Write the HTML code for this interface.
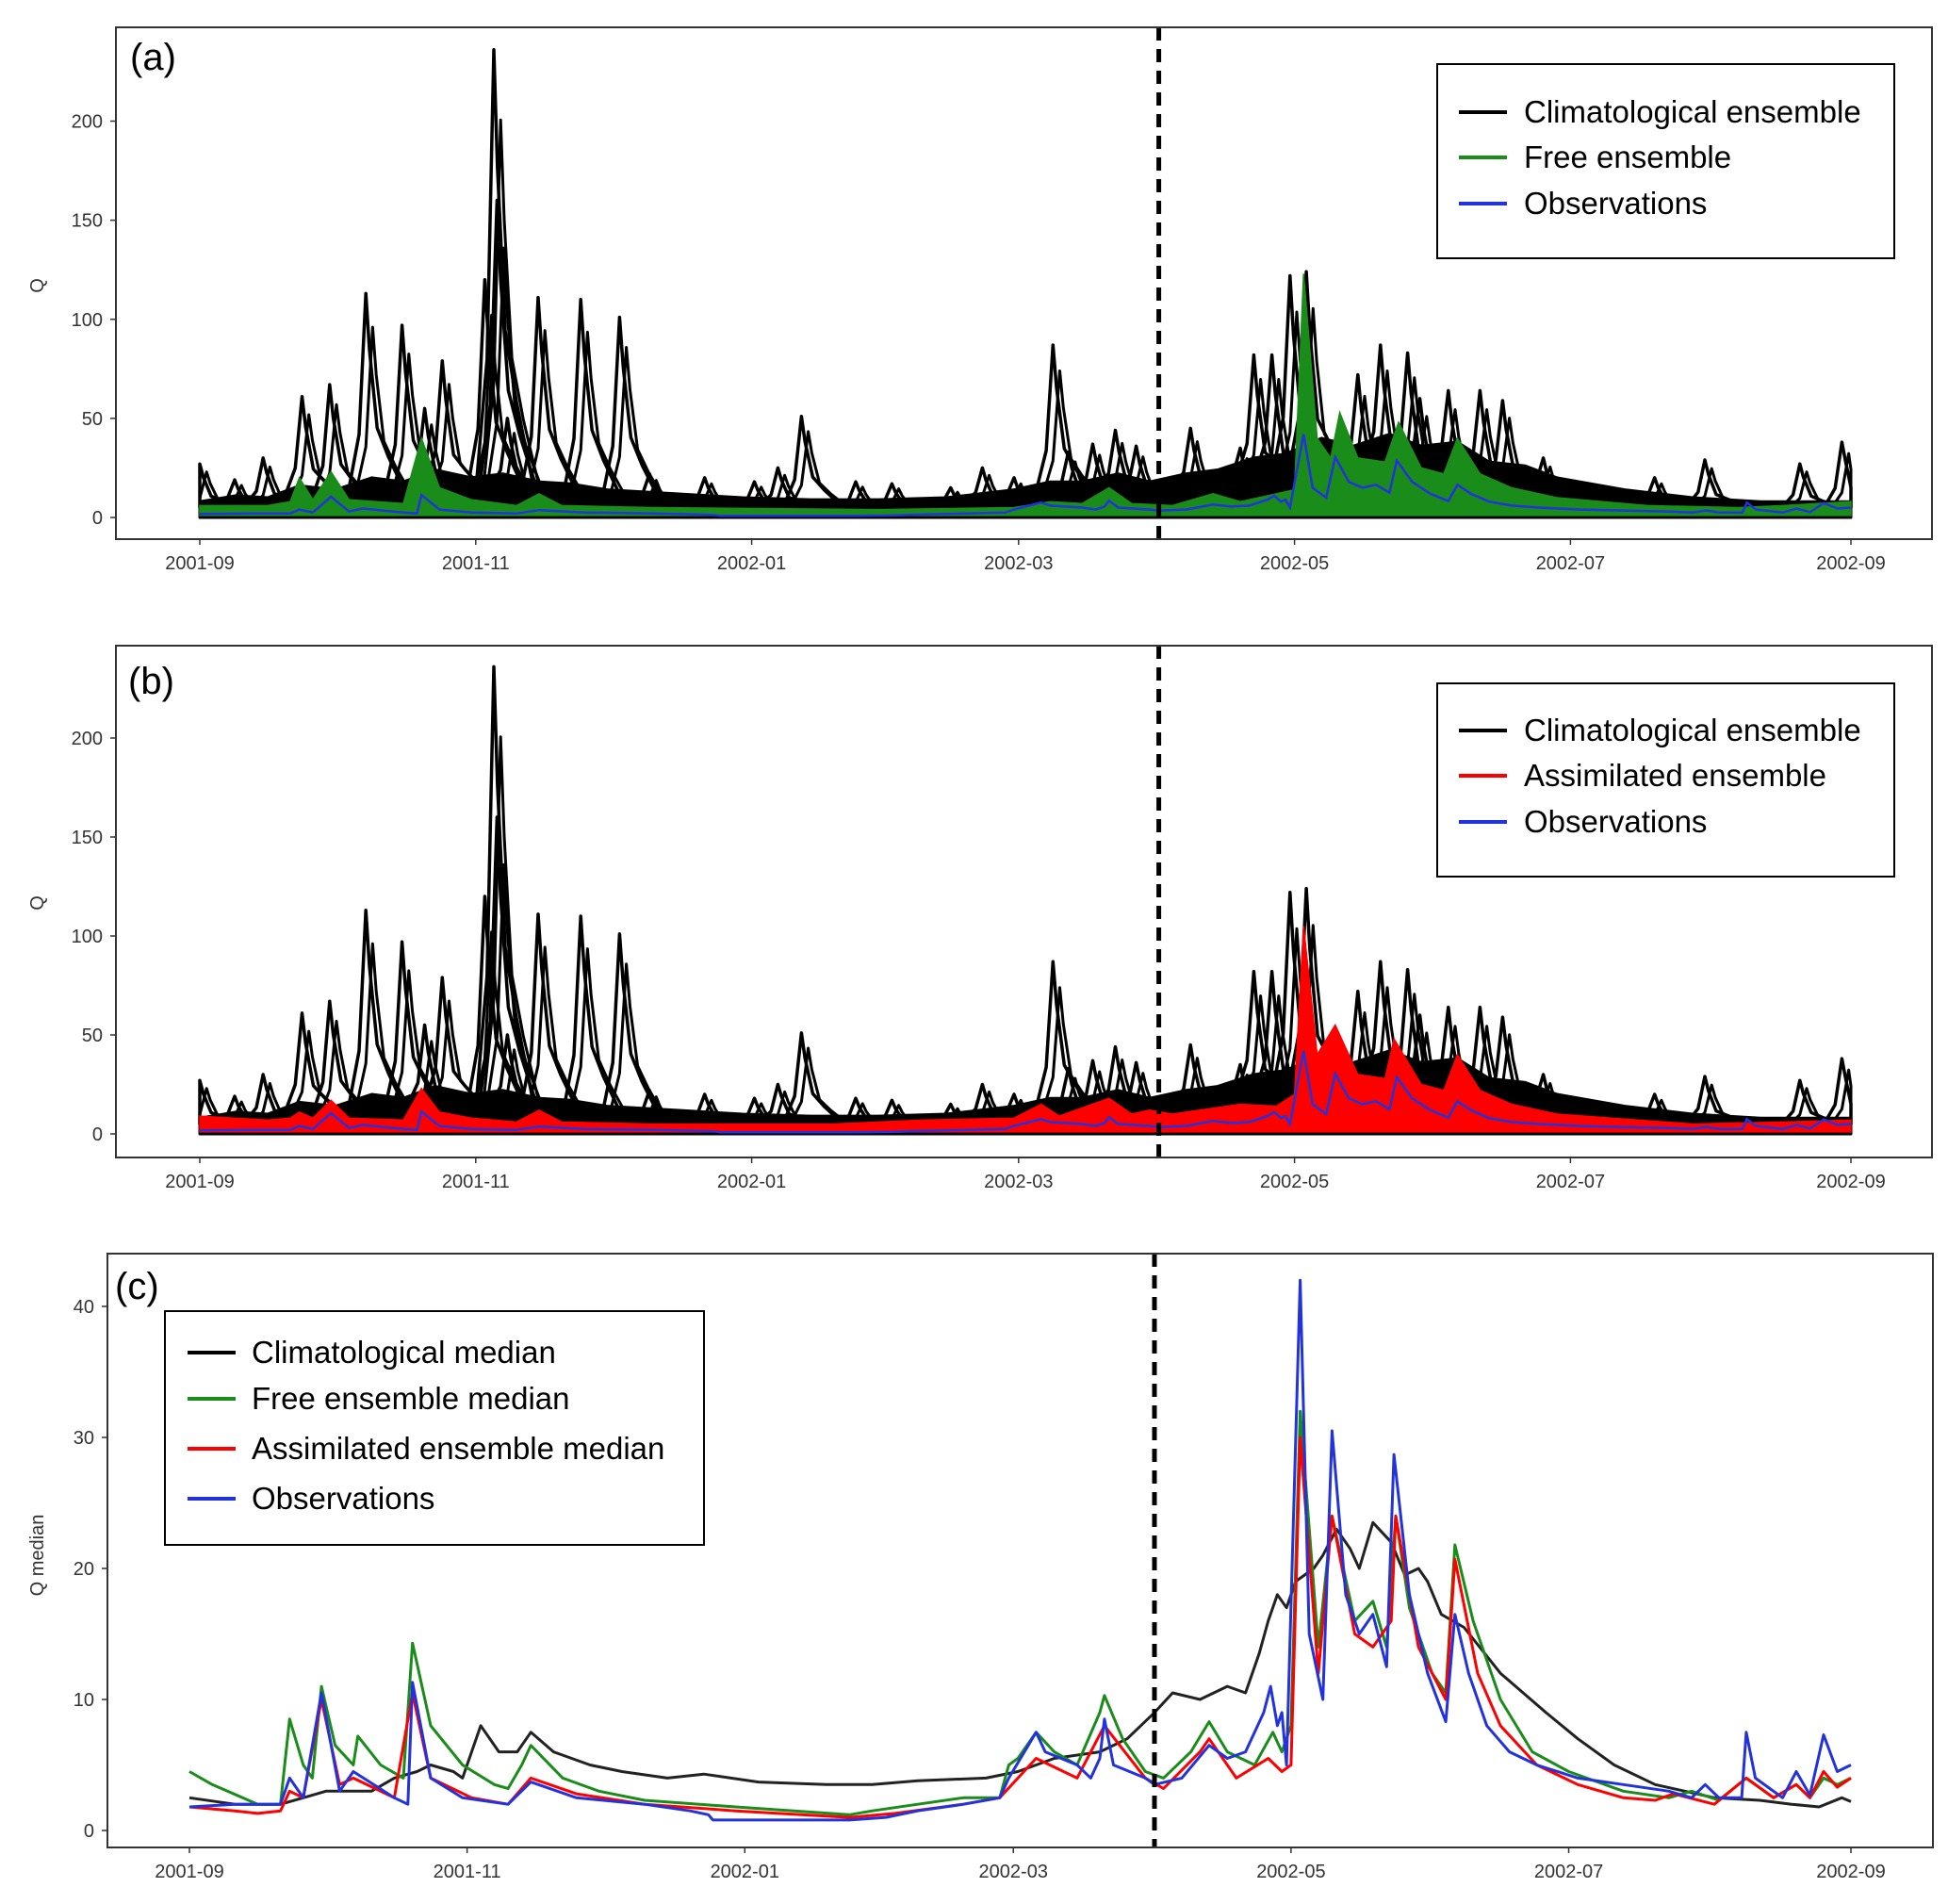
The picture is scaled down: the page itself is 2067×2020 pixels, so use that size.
<!DOCTYPE html>
<html><head><meta charset="utf-8">
<style>
html,body{margin:0;padding:0;background:#fff;}
svg{display:block;font-family:"Liberation Sans",sans-serif;}
</style></head>
<body>
<svg id="fig" width="2067" height="2020" viewBox="0 0 2067 2020" xmlns="http://www.w3.org/2000/svg"></svg>
<script>
// ---- data (day index from 2001-09-01) ----
const monthDays = [0,61,122,181,242,303,365];
const monthLabels = ["2001-09","2001-11","2002-01","2002-03","2002-05","2002-07","2002-09"];
const ensTicks = [0,50,100,150,200];
const medTicks = [0,10,20,30,40];
const assimStartDay = 212;

const obsDays = [0,10,20,22,25,29,33,36,45,48,49,53,60,70,75,85,100,110,114,115,145,153,160,170,178,180,186,188,195,198,200,201,203,210,212,218,224,228,232,236,237.5,239,240,241,244,246,249,251,254,257,260,263,264.6,268,272,276,278,281,285,290,296,305,315,325,330,333,336,341,342,344,350,353,356,359,362,365];
const obsValues = [1.8,2,2,4,2.5,10.5,3,4.5,2.5,2,11.3,4,2.5,2,3.7,2.5,2,1.5,1.2,0.8,0.8,1,1.5,2,2.5,4,7.5,6,5,4,5.5,8.5,5,4,3.5,4,6.5,5.5,6,9,11,8,9,5,42,15,10,30.5,18,15,16.5,12.5,28.7,18,12,8.3,16.5,12,8,6,5,4,3.5,3,2.5,3.5,2.5,2.5,7.5,4,2.5,4.5,2.7,7.3,4.5,5];

const freeDays = [0,5,15,20,22,25,27,29,32,36,37,42,47,49,53,60,67,70,73,75,82,90,100,120,145,150,160,170,178,180,182,186,190,195,200,201,205,210,214,220,224,228,234,238,240,242,244,248,251,256,260,263,265,268,273,276,278,282,288,295,303,315,325,330,336,342,348,353,356,359,362,365];
const freeMedian = [4.5,3.5,2,2,8.5,5,4,11,6.5,5,7.2,5,4,14.3,8,5,3.5,3.2,5,6.5,4,3,2.3,1.8,1.2,1.5,2,2.5,2.5,5,5.5,7.5,6,5,9,10.3,7,4.5,4,6,8.3,6,5,7.5,6,8,32,14,24,16,17.5,14,24,17,12,10.5,21.8,16,10,6,4.5,3,2.5,3,2.3,4,2.5,3.5,2.5,4,3.5,4];

const assimDays = [0,10,15,20,22,25,29,33,36,45,49,53,62,70,75,85,100,120,145,155,170,178,186,195,201,210,214,222,224,230,237,240,242,244,248,251,256,260,264,265,270,276,278,283,288,296,305,315,322,326,335,342,348,353,356,359,362,365];
const assimMedian = [1.8,1.5,1.3,1.5,3,2.5,10,3.5,4,2.5,10.5,4,2.5,2,4,2.8,2,1.5,1,1.3,2,2.5,5.5,4,8,4,3.2,6,7,4,5.5,4.5,5,30,12,24,15,14,16,24,14,10,20.7,12,8,5,3.5,2.5,2.3,2.8,2,4,2.5,3.5,2.5,4.5,3.3,4];

const climDays = [0,10,20,25,30,40,45,50,53,58,60,64,68,72,75,80,88,95,105,113,125,140,150,160,175,182,190,200,206,212,216,222,228,232,235,237,239,241,243,247,249,252,255,257,260,264,267,270,272,275,280,288,298,305,313,322,335,345,352,358,363,365];
const climMedian = [2.5,2,2,2.5,3,3,4,4.5,5,4.5,4,8,6,6,7.5,6,5,4.5,4,4.3,3.7,3.5,3.5,3.8,4,4.5,5.5,6,7,9,10.5,10,11,10.5,13.5,16,18,17,19,20,21,23,21.5,20,23.5,22,19.5,20,19,16.5,15.5,12,9,7,5,3.5,2.5,2.3,2,1.8,2.5,2.2];

// climatological ensemble: dense band + individual member peaks
const bandDays = [0,8,15,22,30,38,45,52,60,67,75,82,90,105,120,135,150,165,180,188,195,203,210,218,225,233,240,248,255,263,270,278,285,293,300,315,330,345,365];
const bandTop = [8,11,10,16,14,20,18,24,20,22,18,17,14,12,10,9,9,10,14,18,18,22,18,22,24,30,32,40,36,42,36,38,28,26,20,14,10,8,8];
const peakDays = [0,7.7,14,22.6,28.7,36.7,44.7,49.7,53.6,63,65,65.7,68,74.8,84.2,92.8,99.4,111.6,122.6,127.8,133,145,153,166,173,180,188.6,192,197.4,202.4,207,219,230,233,237,241,244.6,252,256,261,267,269.7,276,283,288,297,321.6,332.7,353.7,363];
const peakValues = [27,19,30,61,67,113,97,55,79,120,236,160,50,111,110,101,22,20,18,25,51,18,17,15,25,20,87,33,37,44,36,45,35,82,82,122,124,45,72,87,83,60,64,64,59,30,20,29,27,38];

const freeEnvDays = [0,15,20,22,25,29,33,45,49,53,60,70,75,80,100,150,180,188,195,201,206,215,224,230,238,242,244,247,250,252,256,262,265,270,275,278,283,290,300,320,340,350,365];
const freeUpper = [6,6,8,20,9,23,9,7,40,15,9,6,12,6,5,4,5,8,7,15,7,6,12,8,12,14,123,40,30,53,30,28,48,25,22,40,22,15,10,6,5,6,8];
const assimEnvDays = [0,15,20,22,25,29,33,45,49,53,60,70,75,80,100,140,160,180,186,190,201,206,210,215,230,238,242,244,247,251,256,262,264,270,275,278,283,290,300,330,350,365];
const assimUpper = [9,7,8,11,8,17,8,7,23,11,8,6,12,6,5,5,7,8,15,9,18,10,12,10,15,14,20,105,40,55,30,28,48,25,22,40,22,15,10,5,6,7];

// ---- drawing helpers ----
const NS = "http://www.w3.org/2000/svg";
const svg = document.getElementById("fig");
function mk(tag, attrs, parent){
  const e = document.createElementNS(NS, tag);
  for (const k in attrs) e.setAttribute(k, attrs[k]);
  (parent||svg).appendChild(e);
  return e;
}
function interp(days, vals, d){
  if (d<=days[0]) return vals[0];
  for (let i=1;i<days.length;i++){
    if (d<=days[i]){const t=(d-days[i-1])/(days[i]-days[i-1]);return vals[i-1]+t*(vals[i]-vals[i-1]);}
  }
  return vals[vals.length-1];
}
function makeAxes(cfg){
  const xs = d => cfg.x0 + d*(cfg.x1-cfg.x0)/365;
  const ys = v => cfg.y0 - v*cfg.k;
  return {xs, ys};
}
function linePath(days, vals, ax){
  return days.map((d,i)=>(i?"L":"M")+ax.xs(d).toFixed(1)+","+ax.ys(vals[i]).toFixed(1)).join("");
}
function drawFrame(g, cfg, ax, ticks, ylabel){
  const f = mk("rect",{x:cfg.left,y:cfg.top,width:cfg.right-cfg.left,height:cfg.bottom-cfg.top,fill:"none",stroke:"#333","stroke-width":2},g);
  
  
  ticks.forEach(t=>{
    const y = ax.ys(t);
    mk("line",{x1:cfg.left-6,x2:cfg.left,y1:y,y2:y,stroke:"#333","stroke-width":1.5},g);
    const tx = mk("text",{x:cfg.left-14,y:y+7,"text-anchor":"end","font-size":20,fill:"#333"},g);
    tx.textContent = t;
    
    
  });
  monthDays.forEach((d,i)=>{
    const x = ax.xs(d);
    mk("line",{x1:x,x2:x,y1:cfg.bottom,y2:cfg.bottom+6,stroke:"#333","stroke-width":1.5},g);
    const tx = mk("text",{x:x,y:cfg.bottom+32,"text-anchor":"middle","font-size":20,fill:"#333"},g);
    tx.textContent = monthLabels[i];
    
    
  });
  const yl = mk("text",{x:0,y:0,"text-anchor":"middle","font-size":20,fill:"#333",transform:`translate(${cfg.ylx},${cfg.yly}) rotate(-90)`},g);
  yl.textContent = ylabel;
  
  
  const pl = mk("text",{x:cfg.plx,y:cfg.ply,"font-size":40,fill:"#000"},g);
  pl.textContent = cfg.panel;
  
  
}
function drawDashed(g, cfg, ax){
  const x = ax.xs(assimStartDay);
  const l = mk("line",{x1:x,x2:x,y1:cfg.top,y2:cfg.bottom,stroke:"#000","stroke-width":5,"stroke-dasharray":"14,9"},g);
  
  
}
function drawLegend(g, box, entries){
  const r = mk("rect",{x:box.x,y:box.y,width:box.w,height:box.h,fill:"#fff",stroke:"#000","stroke-width":2},g);
  
  
  entries.forEach((e,i)=>{
    const y = box.rows[i];
    const ln = mk("line",{x1:box.lx0,x2:box.lx1,y1:y,y2:y,stroke:e[1],"stroke-width":4},g);
    
    
    const t = mk("text",{x:box.tx,y:y+11,"font-size":33,fill:"#000"},g);
    t.textContent = e[0];
    
    
  });
}
function drawEnsemblePanel(cfg, envDays, envUpper, envColor, legendEntries, legendBox){
  const g = mk("g",{});
  
  
  const ax = makeAxes(cfg);
  let top = bandDays.map((d,i)=>(i?"L":"M")+ax.xs(d).toFixed(1)+","+ax.ys(bandTop[i]).toFixed(1)).join("");
  top += "L"+ax.xs(365)+","+ax.ys(0)+"L"+ax.xs(0)+","+ax.ys(0)+"Z";
  const band = mk("path",{d:top,fill:"#000",stroke:"#000","stroke-width":3,"stroke-linejoin":"round"},g);
  
  
  peakDays.forEach((d,i)=>{
    const v = peakValues[i];
    const base = interp(bandDays,bandTop,d)*0.6;
    const ds=[d-4,d-1.5,d,d+0.8,d+2.5,d+5,d+9];
    const vs=[base,base+(v-base)*0.3,v,v*0.75,v*0.4,v*0.22+base*0.5,base];
    const p = mk("path",{d:linePath(ds.map(x=>Math.max(0,Math.min(365,x))),vs,ax),fill:"none",stroke:"#000","stroke-width":3.5,"stroke-linejoin":"round"},g);
    
    
    const p2 = mk("path",{d:linePath(ds.map(x=>Math.max(0,Math.min(365,x+1.5))),vs.map(x=>x*0.85),ax),fill:"none",stroke:"#000","stroke-width":3,"stroke-linejoin":"round"},g);
    
    
  });
  let env = envDays.map((d,i)=>(i?"L":"M")+ax.xs(d).toFixed(1)+","+ax.ys(envUpper[i]).toFixed(1)).join("");
  env += "L"+ax.xs(365)+","+ax.ys(1)+"L"+ax.xs(0)+","+ax.ys(1)+"Z";
  const e = mk("path",{d:env,fill:envColor,stroke:envColor,"stroke-width":1.5},g);
  
  
  const ob = mk("path",{d:linePath(obsDays,obsValues,ax),fill:"none",stroke:"#2233dd","stroke-width":2.5},g);
  
  
  drawDashed(g,cfg,ax);
  drawFrame(g,cfg,ax,ensTicks,"Q");
  drawLegend(g,legendBox,legendEntries);
}

const cfgA = {id:"a",panel:"(a)",left:123,right:2050,top:29,bottom:572,x0:212,x1:1964,y0:549,k:2.1025,ylx:46,yly:303,plx:138,ply:74};
const cfgB = {id:"b",panel:"(b)",left:123,right:2050,top:685,bottom:1228,x0:212,x1:1964,y0:1203,k:2.1,ylx:46,yly:958,plx:136,ply:736};
const cfgC = {id:"c",panel:"(c)",left:114,right:2051,top:1330,bottom:1960,x0:201,x1:1964,y0:1942,k:13.9,ylx:46,yly:1650,plx:122,ply:1378};

drawEnsemblePanel(cfgA, freeEnvDays, freeUpper, "#1a8c1a",
  [["Climatological ensemble","#000"],["Free ensemble","#1a8c1a"],["Observations","#2233dd"]],
  {x:1525,y:68,w:485,h:206,lx0:1548,lx1:1599,tx:1617,rows:[119,167,216]});
drawEnsemblePanel(cfgB, assimEnvDays, assimUpper, "#ff0000",
  [["Climatological ensemble","#000"],["Assimilated ensemble","#ff0000"],["Observations","#2233dd"]],
  {x:1525,y:725,w:485,h:205,lx0:1548,lx1:1599,tx:1617,rows:[775,823,872]});

(function(){
  const cfg = cfgC;
  const g = mk("g",{});
  
  
  const ax = makeAxes(cfg);
  const series = [[climDays,climMedian,"#222","climatological-median-line"],[freeDays,freeMedian,"#1a8c1a","free-median-line"],[assimDays,assimMedian,"#ff0000","assimilated-median-line"],[obsDays,obsValues,"#2233dd","observations-line"]];
  series.forEach(s=>{
    const p = mk("path",{d:linePath(s[0],s[1],ax),fill:"none",stroke:s[2],"stroke-width":3,"stroke-linejoin":"round"},g);
    
    
  });
  drawDashed(g,cfg,ax);
  drawFrame(g,cfg,ax,medTicks,"Q median");
  drawLegend(g,{x:175,y:1391,w:572,h:248,lx0:199,lx1:250,tx:267,rows:[1435,1484,1537,1590]},
    [["Climatological median","#000"],["Free ensemble median","#1a8c1a"],["Assimilated ensemble median","#ff0000"],["Observations","#2233dd"]]);
})();
</script>
</body></html>
